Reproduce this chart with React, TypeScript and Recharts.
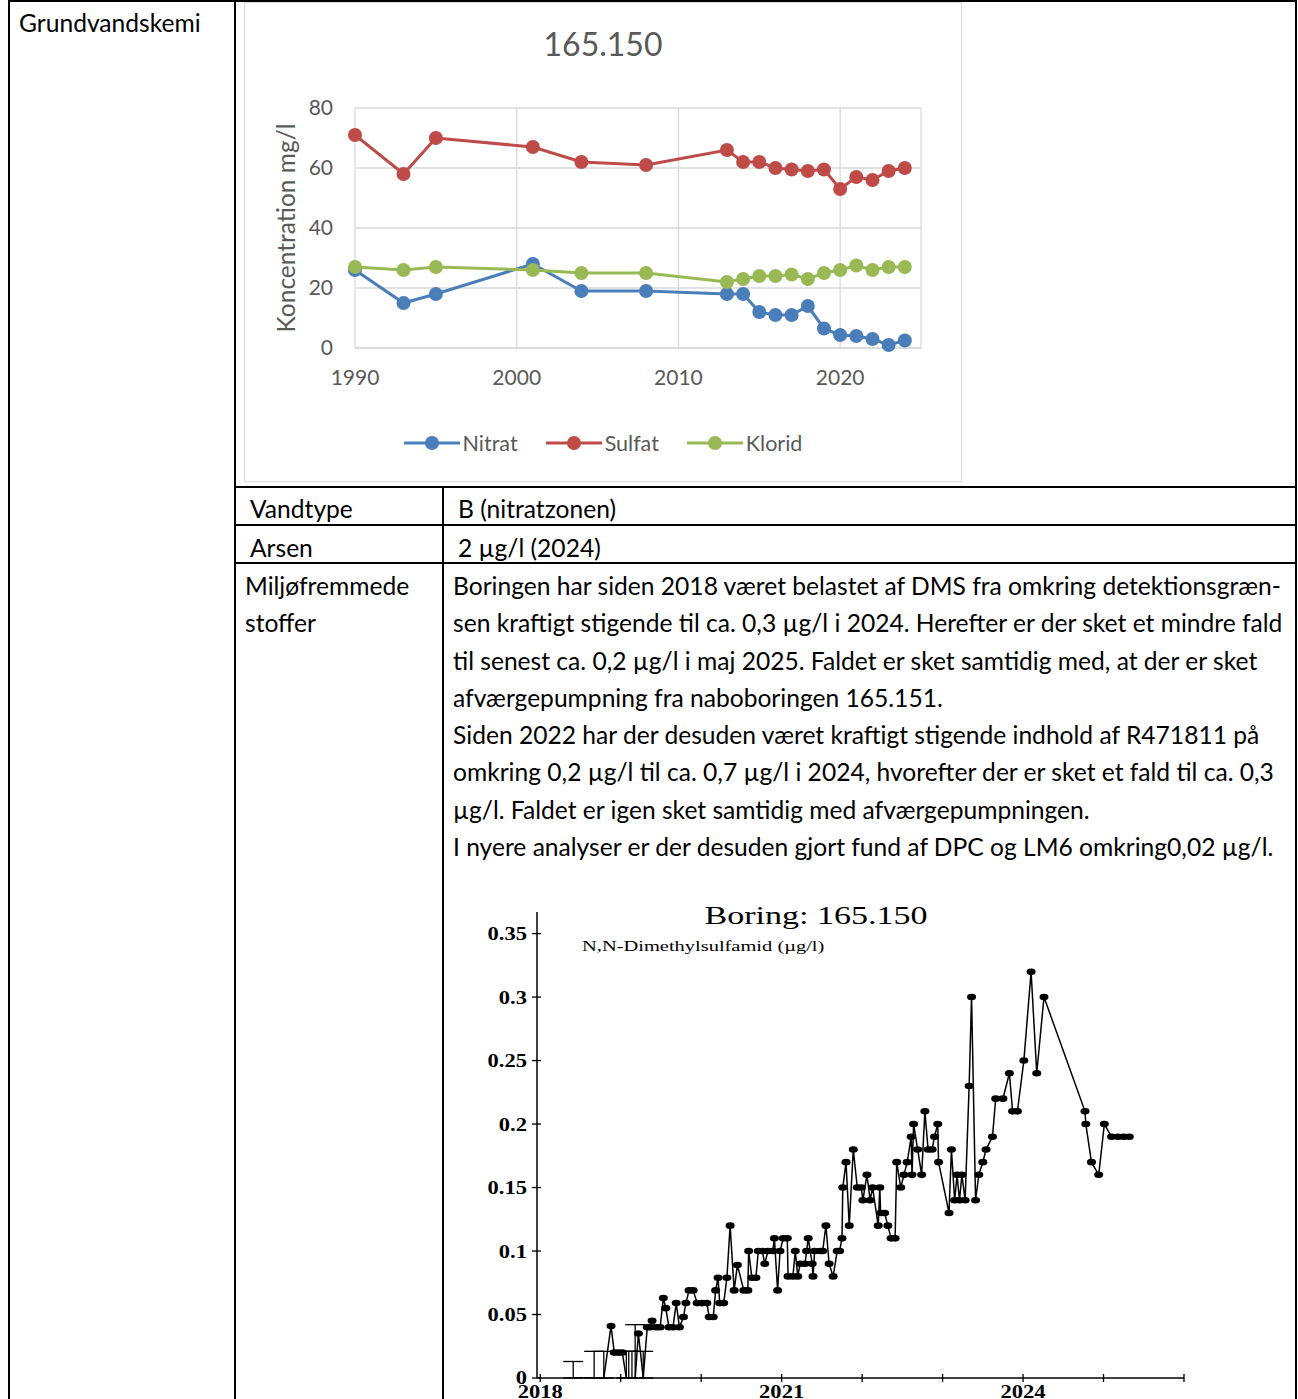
import React from "react"
import {
  CartesianGrid,
  ComposedChart,
  ErrorBar,
  Label,
  Legend,
  Line,
  LineChart,
  Scatter,
  XAxis,
  YAxis,
} from "recharts"

// --- Grundvandskemi (mg/l) ---
const chemYears = [1990, 1993, 1995, 2001, 2004, 2008, 2013, 2014, 2015, 2016, 2017, 2018, 2019, 2020, 2021, 2022, 2023, 2024]
const nitrat = [26, 15, 18, 28, 19, 19, 18, 18, 12, 11, 11, 14, 6.5, 4.3, 4, 3, 1, 2.5]
const sulfat = [71, 58, 70, 67, 62, 61, 66, 62, 62, 60, 59.5, 59, 59.5, 53, 57, 56, 59, 60]
const klorid = [27, 26, 27, 26, 25, 25, 22, 23, 24, 24, 24.5, 23, 25, 26, 27.5, 26, 27, 27]
const chemXTicks = [1990, 2000, 2010, 2020]
const chemYTicks = [0, 20, 40, 60, 80]

// --- DMS (µg/l), [decimal year, value] ---
const dmsMeasured: [number, number][] = [
  [2018.88, 0.041], [2018.92, 0.02], [2018.97, 0.02], [2019.02, 0.02], [2019.22, 0.035],
  [2019.33, 0.04], [2019.37, 0.04], [2019.39, 0.045], [2019.44, 0.04], [2019.49, 0.04],
  [2019.53, 0.063], [2019.56, 0.055], [2019.6, 0.04], [2019.65, 0.04], [2019.69, 0.059],
  [2019.73, 0.04], [2019.78, 0.048], [2019.81, 0.059], [2019.85, 0.069], [2019.9, 0.069],
  [2019.95, 0.059], [2020.01, 0.059], [2020.07, 0.059], [2020.1, 0.048], [2020.15, 0.048],
  [2020.18, 0.069], [2020.21, 0.079], [2020.23, 0.059], [2020.28, 0.059], [2020.32, 0.079],
  [2020.36, 0.12], [2020.41, 0.069], [2020.45, 0.089], [2020.53, 0.069], [2020.58, 0.069],
  [2020.59, 0.1], [2020.63, 0.079], [2020.68, 0.079], [2020.71, 0.1], [2020.76, 0.1],
  [2020.79, 0.09], [2020.83, 0.1], [2020.89, 0.1], [2020.91, 0.11], [2020.95, 0.069],
  [2020.98, 0.1], [2021.02, 0.11], [2021.07, 0.11], [2021.08, 0.08], [2021.14, 0.08],
  [2021.17, 0.1], [2021.2, 0.08], [2021.23, 0.09], [2021.29, 0.09], [2021.31, 0.1],
  [2021.33, 0.11], [2021.38, 0.09], [2021.39, 0.08], [2021.41, 0.1], [2021.48, 0.1],
  [2021.51, 0.1], [2021.55, 0.12], [2021.59, 0.09], [2021.64, 0.08], [2021.69, 0.1],
  [2021.72, 0.1], [2021.75, 0.11], [2021.76, 0.15], [2021.8, 0.17], [2021.84, 0.12],
  [2021.89, 0.18], [2021.94, 0.15], [2021.99, 0.15], [2022.01, 0.14], [2022.06, 0.16],
  [2022.1, 0.14], [2022.13, 0.15], [2022.2, 0.12], [2022.22, 0.15], [2022.23, 0.13],
  [2022.28, 0.13], [2022.32, 0.12], [2022.36, 0.11], [2022.41, 0.11], [2022.43, 0.17],
  [2022.48, 0.15], [2022.52, 0.16], [2022.56, 0.17], [2022.61, 0.19], [2022.62, 0.16],
  [2022.64, 0.2], [2022.69, 0.18], [2022.74, 0.16], [2022.78, 0.21], [2022.82, 0.18],
  [2022.87, 0.18], [2022.9, 0.19], [2022.94, 0.2], [2022.95, 0.17], [2023.08, 0.13],
  [2023.11, 0.18], [2023.15, 0.14], [2023.18, 0.16], [2023.21, 0.14], [2023.24, 0.16],
  [2023.28, 0.14], [2023.33, 0.23], [2023.36, 0.3], [2023.41, 0.14], [2023.45, 0.16],
  [2023.5, 0.17], [2023.54, 0.18], [2023.62, 0.19], [2023.66, 0.22], [2023.75, 0.22],
  [2023.83, 0.24], [2023.87, 0.21], [2023.93, 0.21], [2024.01, 0.25], [2024.1, 0.32],
  [2024.17, 0.24], [2024.26, 0.3], [2024.77, 0.21], [2024.78, 0.2], [2024.85, 0.17],
  [2024.94, 0.16], [2025.01, 0.2], [2025.1, 0.19], [2025.18, 0.19], [2025.25, 0.19],
  [2025.32, 0.19],
]
// samples below detection limit: [decimal year, limit]
const dmsBelowLimit: [number, number][] = [
  [2018.41, 0.013], [2018.67, 0.021], [2018.79, 0.021], [2019.07, 0.021],
  [2019.1, 0.021], [2019.14, 0.021], [2019.18, 0.042], [2019.28, 0.021],
]
const dmsXTicks = [2018, 2019, 2020, 2021, 2022, 2023, 2024, 2025, 2026]
const dmsXLabels = [2018, 2021, 2024]
const dmsYTicks = [0, 0.05, 0.1, 0.15, 0.2, 0.25, 0.3, 0.35]

const chemRows = chemYears.map((year, i) => ({ year, nitrat: nitrat[i], sulfat: sulfat[i], klorid: klorid[i] }))
const chemSeries = [
  { key: "nitrat", name: "Nitrat", color: "#4a7ebb" },
  { key: "sulfat", name: "Sulfat", color: "#be4b48" },
  { key: "klorid", name: "Klorid", color: "#98b954" },
]

const dmsLine = [
  ...dmsMeasured.map(([t, v]) => ({ t, v, dl: false })),
  ...dmsBelowLimit.map(([t]) => ({ t, v: 0, dl: true })),
].sort((a, b) => a.t - b.t)
const dmsLimitRows = dmsBelowLimit.map(([t, lim]) => ({ t, lim, err: [lim, 0] }))

const paragraph = [
  "Boringen har siden 2018 været belastet af DMS fra omkring detektionsgræn-",
  "sen kraftigt stigende til ca. 0,3 µg/l i 2024. Herefter er der sket et mindre fald",
  "til senest ca. 0,2 µg/l i maj 2025. Faldet er sket samtidig med, at der er sket",
  "afværgepumpning fra naboboringen 165.151.",
  "Siden 2022 har der desuden været kraftigt stigende indhold af R471811 på",
  "omkring 0,2 µg/l til ca. 0,7 µg/l i 2024, hvorefter der er sket et fald til ca. 0,3",
  "µg/l. Faldet er igen sket samtidig med afværgepumpningen.",
  "I nyere analyser er der desuden gjort fund af DPC og LM6 omkring0,02 µg/l.",
]

const FONT = "Lato, 'Open Sans', sans-serif"
const SERIF = "'Liberation Serif', 'Times New Roman', serif"
const GREY = "#595959"

function ChemLegend() {
  return (
    <div style={{ display: "flex", justifyContent: "center", gap: 28, fontFamily: FONT, fontSize: 21.5, color: GREY }}>
      {chemSeries.map((s) => (
        <div key={s.key} style={{ display: "flex", alignItems: "center" }}>
          <svg width={56} height={16}>
            <line x1={0} x2={56} y1={8} y2={8} stroke={s.color} strokeWidth={3} />
            <circle cx={28} cy={8} r={7} fill={s.color} />
          </svg>
          <span style={{ marginLeft: 3, lineHeight: "26px" }}>{s.name}</span>
        </div>
      ))}
    </div>
  )
}

function YTitle(props: any) {
  const vb = props.viewBox
  const cx = vb.x + 41
  const cy = vb.y + vb.height / 2
  return (
    <text x={cx} y={cy} transform={`rotate(-90, ${cx}, ${cy})`} textAnchor="middle" dominantBaseline="central"
      fontFamily={FONT} fontSize={24.5} fill={GREY}>
      Koncentration mg/l
    </text>
  )
}

function DmsDot(props: any) {
  const { cx, cy, payload, index } = props
  if (payload.dl || cx == null) return <g key={index} />
  return <ellipse key={index} cx={cx} cy={cy} rx={4.5} ry={3.3} fill="#000" />
}

function DmsXTick(props: any) {
  const { x, y, payload } = props
  return (
    <g>
      <line x1={x} x2={x} y1={y - 4} y2={y + 4} stroke="#000" strokeWidth={1.3} />
      {dmsXLabels.includes(payload.value) && (
        <text transform={`translate(${x},${y + 20}) scale(1.22,1)`} textAnchor="middle"
          fontFamily={SERIF} fontWeight="bold" fontSize={18.5} fill="#000">
          {payload.value}
        </text>
      )}
    </g>
  )
}

function DmsYTick(props: any) {
  const { x, y, payload } = props
  return (
    <g>
      <line x1={x - 5} x2={x + 4} y1={y} y2={y} stroke="#000" strokeWidth={1.3} />
      <text transform={`translate(${x - 10},${y}) scale(1.22,1)`} textAnchor="end" dy="0.35em"
        fontFamily={SERIF} fontWeight="bold" fontSize={18.5} fill="#000">
        {String(payload.value)}
      </text>
    </g>
  )
}

const cellText: React.CSSProperties = { position: "absolute", fontFamily: FONT, fontSize: 24.6, lineHeight: "26px", whiteSpace: "nowrap", color: "#000" }

function Rule({ x, y, w, h }: { x: number; y: number; w: number; h: number }) {
  return <div style={{ position: "absolute", left: x, top: y, width: w, height: h, background: "#000" }} />
}

export default function App() {
  return (
    <div style={{ position: "absolute", left: 0, top: 0, width: 1298, height: 1399, background: "#fff", overflow: "hidden" }}>
      {/* table rules */}
      <Rule x={8} y={0} w={1289} h={2} />
      <Rule x={8} y={0} w={2} h={1399} />
      <Rule x={234} y={0} w={2} h={1399} />
      <Rule x={1295} y={0} w={2} h={1399} />
      <Rule x={234} y={486} w={1063} h={2} />
      <Rule x={234} y={524} w={1063} h={2} />
      <Rule x={234} y={562} w={1063} h={2} />
      <Rule x={442} y={486} w={2} h={913} />

      <div style={{ ...cellText, left: 19, top: 10 }}>Grundvandskemi</div>
      <div style={{ ...cellText, left: 250, top: 496 }}>Vandtype</div>
      <div style={{ ...cellText, left: 458, top: 496 }}>B (nitratzonen)</div>
      <div style={{ ...cellText, left: 250, top: 535 }}>Arsen</div>
      <div style={{ ...cellText, left: 458, top: 535 }}>2 µg/l (2024)</div>
      <div style={{ ...cellText, left: 245, top: 567, lineHeight: "37.3px" }}>
        <div>Miljøfremmede</div>
        <div>stoffer</div>
      </div>
      <div style={{ ...cellText, left: 453, top: 567, lineHeight: "37.3px" }}>
        {paragraph.map((line) => (
          <div key={line}>{line}</div>
        ))}
      </div>

      {/* chemistry chart */}
      <div style={{ position: "absolute", left: 244, top: 2, width: 718, height: 480, border: "1.5px solid #d9d9d9", boxSizing: "border-box" }} />
      <div style={{ position: "absolute", left: 244, width: 718, textAlign: "center", fontFamily: FONT, fontSize: 32, color: GREY, lineHeight: "40px", top: 24 }}>
        165.150
      </div>
      <div style={{ position: "absolute", left: 244, top: 2 }}>
        <LineChart width={718} height={480} data={chemRows} margin={{ top: 106, right: 41, bottom: 0, left: 0 }}>
          <CartesianGrid stroke="#d9d9d9" strokeWidth={1.3} />
          <XAxis dataKey="year" type="number" domain={[1990, 2025]} ticks={chemXTicks} height={134}
            tickSize={0} tickMargin={22} tickLine={false} axisLine={{ stroke: "#d9d9d9", strokeWidth: 1.3 }}
            tick={{ fill: GREY, fontSize: 21, fontFamily: FONT }} />
          <YAxis type="number" domain={[0, 80]} ticks={chemYTicks} width={111} tickSize={0} tickMargin={22}
            tickLine={false} axisLine={false} tick={{ fill: GREY, fontSize: 21, fontFamily: FONT }}>
            <Label content={YTitle} />
          </YAxis>
          {chemSeries.map((s) => (
            <Line key={s.key} type="linear" dataKey={s.key} name={s.name} stroke={s.color} strokeWidth={3}
              dot={{ r: 7, fill: s.color, stroke: s.color, strokeWidth: 0 }} activeDot={false} isAnimationActive={false} />
          ))}
          <Legend verticalAlign="middle" layout="horizontal" content={() => <ChemLegend />}
            wrapperStyle={{ top: 428, left: 0, width: 718 }} />
        </LineChart>
      </div>

      {/* DMS chart */}
      <div style={{ position: "absolute", left: 444, top: 880 }}>
        <ComposedChart width={853} height={519} margin={{ top: 32, right: 113, bottom: 0, left: 0 }}>
          <XAxis dataKey="t" type="number" domain={[2017.96, 2026]} ticks={dmsXTicks} allowDataOverflow
            height={21} tickSize={0} tickMargin={0} tickLine={false} axisLine={{ stroke: "#000", strokeWidth: 1.5 }}
            tick={<DmsXTick />} interval={0} />
          <YAxis type="number" domain={[0, 0.367]} ticks={dmsYTicks} allowDataOverflow width={93}
            tickSize={0} tickMargin={0} tickLine={false} axisLine={{ stroke: "#000", strokeWidth: 1.5 }}
            tick={<DmsYTick />} interval={0} />
          <Line data={dmsLine} dataKey="v" type="linear" stroke="#000" strokeWidth={1.5}
            dot={(p: any) => <DmsDot {...p} />} activeDot={false} isAnimationActive={false} />
          <Scatter data={dmsLimitRows} dataKey="lim" shape={() => <g />} isAnimationActive={false}>
            <ErrorBar dataKey="err" direction="y" width={10} stroke="#000" strokeWidth={1.3} />
          </Scatter>
        </ComposedChart>
      </div>
      <svg style={{ position: "absolute", left: 0, top: 0, pointerEvents: "none" }} width={1298} height={1399}>
        <text transform="translate(816,924) scale(1.31,1)" textAnchor="middle" fontFamily={SERIF} fontSize={26} fill="#000">
          Boring: 165.150
        </text>
        <text transform="translate(582,951) scale(1.32,1)" fontFamily={SERIF} fontSize={15.5} fill="#000">
          N,N-Dimethylsulfamid (µg/l)
        </text>
      </svg>
    </div>
  )
}
